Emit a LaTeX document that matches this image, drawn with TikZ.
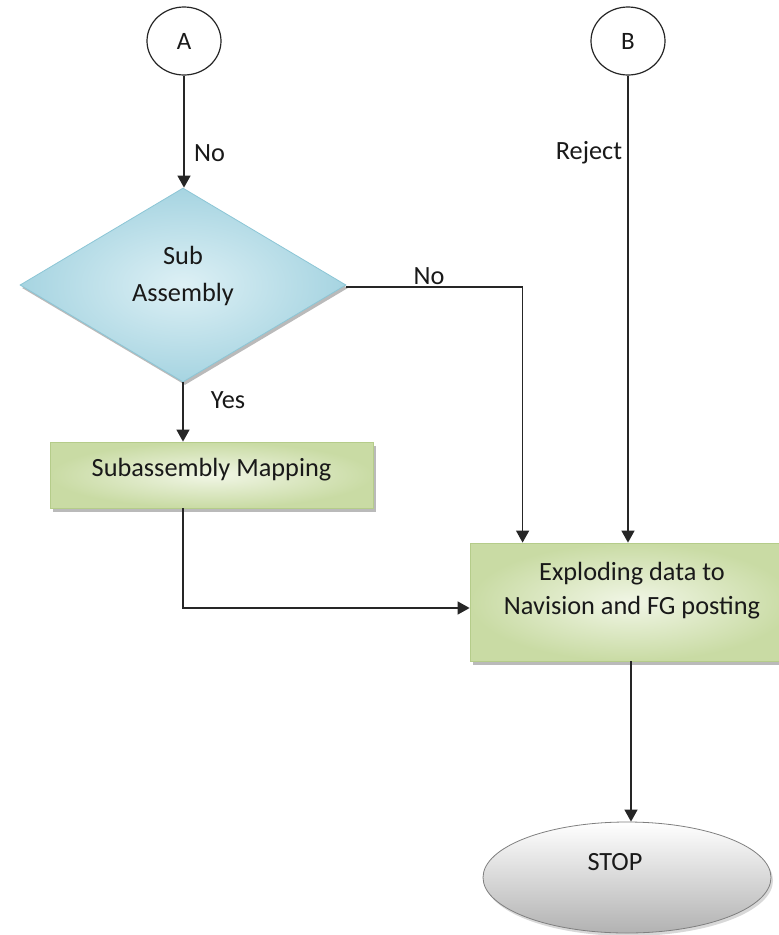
\documentclass[tikz,border=0pt]{standalone}
\usepackage{fontspec}
\setmainfont{Carlito}
\usetikzlibrary{shapes.geometric,arrows.meta,shadows}
\definecolor{diaIn}{HTML}{DDF0F5}
\definecolor{diaOut}{HTML}{A6D4E1}
\definecolor{diaLine}{HTML}{8CC6D6}
\definecolor{grIn}{HTML}{F1F6E6}
\definecolor{grOut}{HTML}{C9DBA4}
\definecolor{grLine}{HTML}{B5CC8A}
\definecolor{stopLine}{HTML}{7F7F7F}
\definecolor{stopBot}{HTML}{B2B2B2}
\definecolor{lineCol}{HTML}{262626}
\begin{document}
\begin{tikzpicture}[x=1pt,y=-1pt,
  txt/.style={font=\fontsize{26.3}{31}\selectfont, inner sep=0pt, text=black!90},
  conn/.style={line width=1.4pt, draw=lineCol, -{Triangle[width=13pt,length=12pt]}},
  circ/.style={ellipse, draw=black!85, line width=1.2pt, fill=white, minimum width=74pt, minimum height=68pt, inner sep=0pt, font=\fontsize{25}{29}\selectfont, text=black!90},
  dia/.style={diamond, draw=diaLine, line width=0.8pt, inner color=diaIn, outer color=diaOut, minimum width=326pt, minimum height=194pt, inner sep=0pt,
    drop shadow={shadow xshift=2pt, shadow yshift=-3pt, fill=black!45, opacity=0.6}},
  gbox/.style={rectangle, draw=grLine, line width=0.8pt, inner color=grIn, outer color=grOut, inner sep=0pt,
    drop shadow={shadow xshift=3pt, shadow yshift=-4pt, fill=black!45, opacity=0.6}},
  stopsh/.style={ellipse, draw=stopLine, line width=0.8pt, top color=white, bottom color=stopBot, minimum width=288pt, minimum height=111pt, inner sep=0pt,
    drop shadow={shadow xshift=2pt, shadow yshift=-3pt, fill=black!30, opacity=0.5}}
]
\useasboundingbox (0,0) rectangle (779,935);
\clip (0,0) rectangle (779,935);
\fill[white] (0,0) rectangle (779,935);

% nodes
\node[circ] (A) at (184,41) {A};
\node[circ] (B) at (628,41) {B};
\node[dia] (sub) at (183,285) {};
\node[txt, align=center, font=\fontsize{26.3}{37}\selectfont] (subtxt) at (183,276) {Sub\\Assembly};
\node[gbox, minimum width=323pt, minimum height=66pt] (map) at (211.5,475) {};
\node[txt] (maptxt) at (211.5,470) {Subassembly Mapping};
\node[gbox, minimum width=322pt, minimum height=118pt] (expl) at (631,602) {};
\node[txt, align=center, font=\fontsize{26.3}{34}\selectfont] (expltxt) at (632,591) {Exploding data to\\Navision and FG posting};
\node[stopsh] (stop) at (627,877.5) {};
\node[txt] (stoptxt) at (615,862) {STOP};

% labels
\node[txt, anchor=west] (lno1) at (194,153) {No};
\node[txt] (lrej) at (589,153) {Reject};
\node[txt] (lno2) at (429,276) {No};
\node[txt] (lyes) at (228,400) {Yes};

% connectors
\draw[conn] (A.south) -- (A.south |- sub.north);
\draw[conn] ([yshift=-2pt]sub.east) -| ([xshift=53pt]expl.north west);
\draw[conn] (B.south) -- (B.south |- expl.north);
\draw[conn] (sub.south) -- (sub.south |- map.north);
\draw[conn] (sub.south |- map.south) |- ([yshift=-6pt]expl.west);
\draw[conn] ([xshift=4pt]stop.north |- expl.south) -- ([xshift=4pt]stop.north);
\end{tikzpicture}
\end{document}
